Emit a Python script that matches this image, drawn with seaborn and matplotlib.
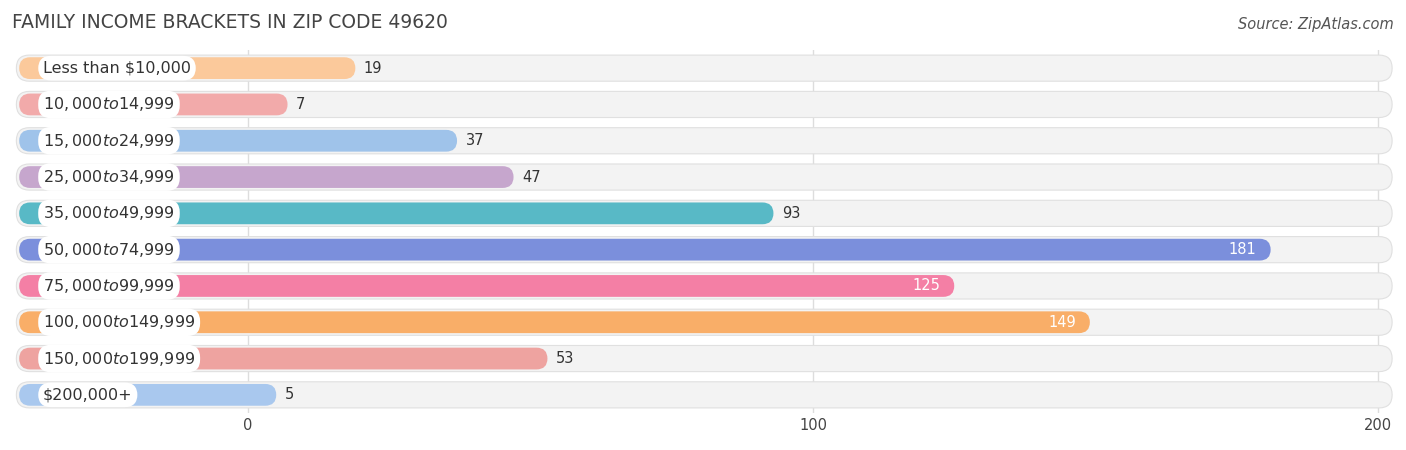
import matplotlib
matplotlib.use("Agg")
import matplotlib.pyplot as plt
from matplotlib.patches import FancyBboxPatch
import seaborn as sns
import pandas as pd

brackets = ["Less than $10,000", "$10,000 to $14,999", "$15,000 to $24,999",
            "$25,000 to $34,999", "$35,000 to $49,999", "$50,000 to $74,999",
            "$75,000 to $99,999", "$100,000 to $149,999", "$150,000 to $199,999",
            "$200,000+"]
families = [19, 7, 37, 47, 93, 181, 125, 149, 53, 5]
colors = ["#fbc99b", "#f2aaaa", "#9fc3ea", "#c6a6cd", "#58b9c6", "#7b8fdc",
          "#f47fa5", "#f9ae68", "#eea3a0", "#a9c8ee"]
ticks = [0, 100, 200]

OFF = 41  # bars start left of zero (under the label pill)
PXU = 5.65  # pixels per unit on x
ROW = 36.3  # pixels per row

df = pd.DataFrame({"bracket": brackets, "x": [v + OFF for v in families]})

fig = plt.figure(figsize=(14.06, 4.5), dpi=100)
ax = fig.add_axes([10 / 1406, 1 - 413 / 450, 1390 / 1406, (413 - 50) / 450])
x0 = (10 - 248) / PXU + OFF
x1 = (1400 - 248) / PXU + OFF
ax.set_xlim(x0, x1)
ax.set_ylim(len(brackets) - 0.5 + (413 - 50 - 10 * ROW) / ROW / 2, -0.5 - (413 - 50 - 10 * ROW) / ROW / 2)

for t in ticks:
    ax.axvline(t + OFF, color="#dddddd", lw=1, zorder=0)

aspect = PXU / ROW
for i in range(len(brackets)):
    bg = FancyBboxPatch((0, i - 0.36), 202.5 + OFF, 0.72,
                        boxstyle="round,pad=0,rounding_size=%f" % (13 / PXU),
                        mutation_aspect=aspect, fc="#f3f3f3", ec="#e0e0e0", lw=0.8, zorder=1)
    ax.add_patch(bg)

sns.barplot(data=df, x="x", y="bracket", orient="h", ax=ax, width=0.6)
for p, c in zip(list(ax.patches)[len(brackets):], colors):
    b = p.get_bbox()
    r = FancyBboxPatch((b.x0 + 0.5, b.y0), b.width - 0.5, b.height,
                       boxstyle="round,pad=0,rounding_size=%f" % (11 / PXU),
                       mutation_aspect=aspect, fc=c, ec="none", zorder=2)
    p.set_visible(False)
    ax.add_patch(r)

for i, (name, v) in enumerate(zip(brackets, families)):
    ax.text((43 - 248) / PXU + OFF, i, name, ha="left", va="center", fontsize=11.5,
            color="#333333", zorder=4,
            bbox=dict(boxstyle="round,pad=0.3,rounding_size=0.8", fc="white", ec="none"))
    if v > 110:
        ax.text(v + OFF - 2.5, i, str(v), ha="right", va="center", fontsize=10.5,
                color="white", zorder=4)
    else:
        ax.text(v + OFF + 1.5, i, str(v), ha="left", va="center", fontsize=10.5,
                color="#333333", zorder=4)

ax.set_xticks([t + OFF for t in ticks])
ax.set_xticklabels([str(t) for t in ticks], fontsize=10.5, color="#444444")
ax.set_xticks([], minor=True)
ax.tick_params(length=0)
ax.set_yticks([])
ax.set_xlabel("")
ax.set_ylabel("")
for s in ax.spines.values():
    s.set_visible(False)

fig.text(12 / 1406, 1 - 22 / 450, "FAMILY INCOME BRACKETS IN ZIP CODE 49620",
         fontsize=13.5, color="#444444", va="center")
fig.text(1394 / 1406, 1 - 24 / 450, "Source: ZipAtlas.com", fontsize=10.5,
         color="#555555", style="italic", ha="right", va="center")

fig.savefig("out.png", dpi=100)
